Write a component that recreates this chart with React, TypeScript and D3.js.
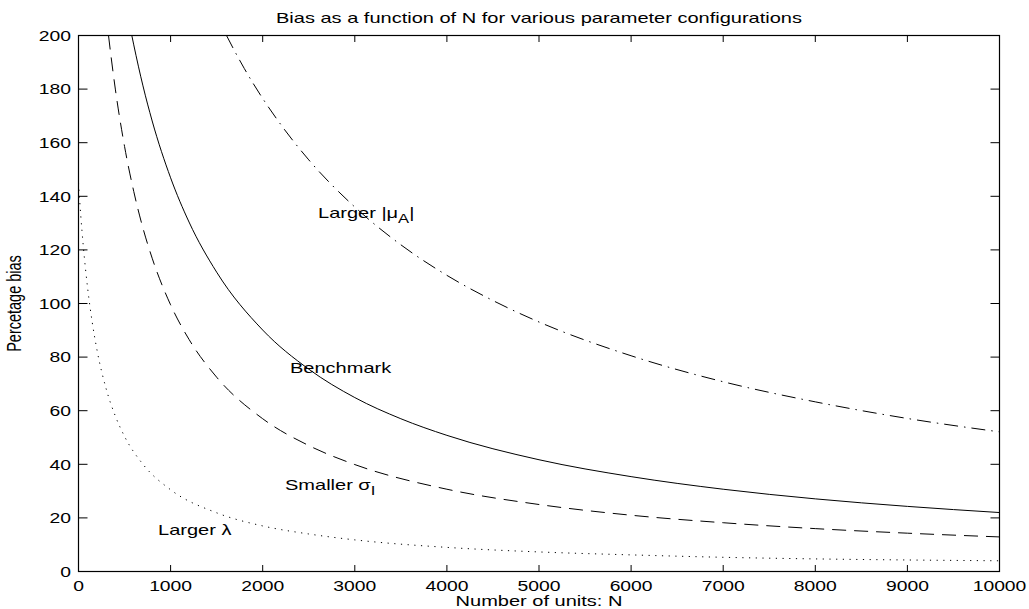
import React from "react";
import * as d3 from "d3";

// ---- data ----
const xTicks = [0, 1000, 2000, 3000, 4000, 5000, 6000, 7000, 8000, 9000, 10000];
const yTicks = [0, 20, 40, 60, 80, 100, 120, 140, 160, 180, 200];

const benchmarkN = [579, 600, 700, 800, 1000, 1200, 1500, 2000, 2500, 3000, 3500, 4000, 5000, 6000, 7000, 8000, 9000, 10000];
const benchmarkBias = [200, 196.5, 181.2, 168.1, 146.9, 130.4, 111.7, 90.1, 75.5, 64.9, 57.0, 50.8, 41.7, 35.4, 30.7, 27.1, 24.3, 22.0];

const smallerSigmaN = [326, 350, 400, 500, 600, 700, 800, 1000, 1200, 1500, 2000, 2500, 3000, 4000, 5000, 6000, 7000, 8000, 9000, 10000];
const smallerSigmaBias = [200, 193.1, 180.0, 158.6, 141.8, 128.1, 116.9, 99.5, 86.6, 72.5, 57.0, 47.0, 39.9, 30.7, 25.0, 21.0, 18.2, 16.0, 14.3, 12.9];

const largerMuN = [1607, 1700, 1800, 2000, 2200, 2500, 3000, 3500, 4000, 4500, 5000, 6000, 7000, 8000, 9000, 10000];
const largerMuBias = [200, 193.9, 187.7, 176.5, 166.6, 153.6, 136.0, 121.9, 110.5, 101.1, 93.1, 80.5, 70.8, 63.3, 57.1, 52.1];

const largerLambdaN = [0, 25, 50, 100, 150, 200, 300, 400, 500, 700, 1000, 1500, 2000, 2500, 3000, 4000, 5000, 6000, 7000, 8000, 9000, 10000];
const largerLambdaBias = [145, 132.6, 122.2, 105.5, 92.8, 82.8, 68.2, 58.0, 50.4, 40.0, 30.5, 21.9, 17.0, 14.0, 11.8, 9.0, 7.3, 6.2, 5.3, 4.7, 4.3, 4.0];

const W = 1029;
const H = 609;
const FONT = "'Liberation Sans', Arial, Helvetica, sans-serif";
const SX = 1.38; // horizontal stretch of the original figure's text

const x = d3.scaleLinear().domain([0, 10000]).range([78.5, 999.5]);
const y = d3.scaleLinear().domain([0, 200]).range([571.5, 35.5]);

const line = d3
  .line<[number, number]>()
  .x((d) => x(d[0]))
  .y((d) => y(d[1]))
  .curve(d3.curveMonotoneX);

const zip = (a: number[], b: number[]) => a.map((v, i) => [v, b[i]] as [number, number]);

const series = [
  { n: benchmarkN, v: benchmarkBias, dash: undefined },
  { n: smallerSigmaN, v: smallerSigmaBias, dash: "14,8" },
  { n: largerMuN, v: largerMuBias, dash: "14,6,1.5,6" },
  { n: largerLambdaN, v: largerLambdaBias, dash: "1.2,5.5" },
];

function T({
  px,
  py,
  anchor = "start",
  size = 14.5,
  rotate = 0,
  children,
}: {
  px: number;
  py: number;
  anchor?: string;
  size?: number;
  rotate?: number;
  children: React.ReactNode;
}) {
  return (
    <text
      transform={`translate(${px},${py}) scale(${SX},1)${rotate ? ` rotate(${rotate})` : ""}`}
      textAnchor={anchor}
      fontFamily={FONT}
      fontSize={size}
      fill="#000"
    >
      {children}
    </text>
  );
}

export default function App() {
  const x0 = x(0);
  const x1 = x(10000);
  const y0 = y(0);
  const y1 = y(200);
  return (
    <svg
      width={W}
      height={H}
      viewBox={`0 0 ${W} ${H}`}
      style={{ position: "absolute", left: 0, top: 0, background: "#fff" }}
    >
      <rect x={0} y={0} width={W} height={H} fill="#fff" />
      <defs>
        <clipPath id="plotClip">
          <rect x={x0} y={y1} width={x1 - x0} height={y0 - y1} />
        </clipPath>
      </defs>

      {/* curves */}
      <g clipPath="url(#plotClip)">
        {series.map((s, i) => (
          <path
            key={i}
            d={line(zip(s.n, s.v)) || ""}
            fill="none"
            stroke="#000"
            strokeWidth={1}
            strokeDasharray={s.dash}
          />
        ))}
      </g>

      {/* frame */}
      <rect x={x0} y={y1} width={x1 - x0} height={y0 - y1} fill="none" stroke="#000" strokeWidth={1.2} />

      {/* ticks */}
      {xTicks.map((t) => (
        <g key={"xt" + t}>
          <line x1={x(t)} x2={x(t)} y1={y0} y2={y0 - 6.5} stroke="#000" />
          <line x1={x(t)} x2={x(t)} y1={y1} y2={y1 + 6.5} stroke="#000" />
          <T px={x(t)} py={591} anchor="middle" size={14}>
            {t}
          </T>
        </g>
      ))}
      {yTicks.map((t) => (
        <g key={"yt" + t}>
          <line x1={x0} x2={x0 + 9} y1={y(t)} y2={y(t)} stroke="#000" />
          <line x1={x1} x2={x1 - 9} y1={y(t)} y2={y(t)} stroke="#000" />
          <T px={71} py={y(t) + 5.2} anchor="end" size={14}>
            {t}
          </T>
        </g>
      ))}

      {/* titles */}
      <T px={(x0 + x1) / 2} py={23} anchor="middle" size={14.5}>
        Bias as a function of N for various parameter configurations
      </T>
      <T px={(x0 + x1) / 2} py={606} anchor="middle" size={14.5}>
        Number of units: N
      </T>
      <T px={21} py={(y0 + y1) / 2} anchor="middle" size={14.5} rotate={-90}>
        Percetage bias
      </T>

      {/* curve labels */}
      <T px={318} py={218}>
        Larger |μ<tspan fontSize={12} dy={5}>A</tspan>
        <tspan dy={-5}>|</tspan>
      </T>
      <T px={290} py={373}>
        Benchmark
      </T>
      <T px={285} py={490}>
        Smaller σ<tspan fontSize={12} dy={5}>I</tspan>
      </T>
      <T px={158} py={535}>
        Larger λ
      </T>
    </svg>
  );
}
